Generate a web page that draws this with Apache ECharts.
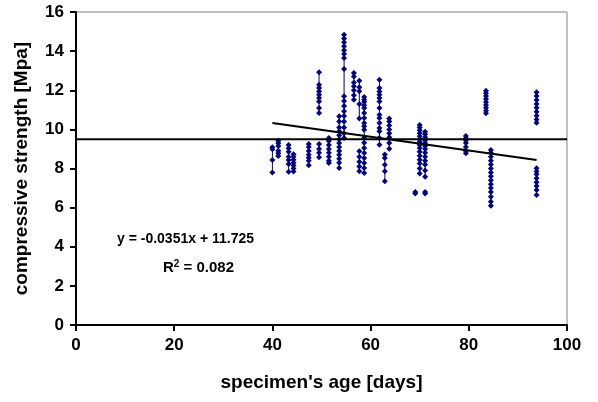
<!DOCTYPE html>
<html>
<head>
<meta charset="utf-8">
<script src="https://cdn.jsdelivr.net/npm/echarts@6/dist/echarts.min.js"></script>
<style>
html,body{margin:0;padding:0;background:#fff;}
#chart{width:598px;height:402px;}
</style>
</head>
<body>
<div id="chart"></div>
<script>
// ---- data ----
// age of each measured column [days]
const ages = [40.0, 41.2, 43.3, 44.3, 47.4, 49.5, 49.5, 51.5, 53.6, 54.6,
              56.6, 57.7, 57.7, 58.7, 61.8, 62.9, 63.8, 69.1, 70.0, 71.1,
              71.1, 79.4, 83.5, 84.5, 93.8, 93.8];
// compressive strength values of each column [MPa]
const strengths = [
  [9.08, 8.98, 8.44, 7.79],
  [9.42, 9.29, 9.15, 8.91, 8.78, 8.64],
  [9.20, 9.03, 8.86, 8.60, 8.43, 8.23, 7.84],
  [8.73, 8.60, 8.45, 8.30, 8.15, 8.00, 7.85],
  [9.25, 9.10, 8.90, 8.70, 8.55, 8.40, 8.16],
  [12.92, 12.28, 12.11, 11.94, 11.77, 11.60, 11.43, 11.09, 10.84],
  [9.25, 9.00, 8.80, 8.57],
  [9.56, 9.40, 9.20, 9.00, 8.80, 8.60, 8.40, 8.28],
  [10.67, 10.40, 10.10, 9.90, 9.70, 9.50, 9.30, 9.10, 8.90, 8.70, 8.50, 8.30, 8.03],
  [14.84, 14.65, 14.45, 14.25, 14.05, 13.85, 13.65, 13.09, 11.69, 11.45, 11.20, 10.93, 10.69, 10.40, 10.10, 9.80, 9.56],
  [12.88, 12.70, 12.40, 12.20, 12.00, 11.75, 11.52],
  [12.49, 12.15, 11.95, 11.30, 10.55],
  [8.88, 8.60, 8.35, 8.10, 7.86],
  [11.66, 11.52, 11.40, 11.23, 11.09, 10.84, 10.58, 10.33, 10.16, 9.98, 9.56, 9.31, 9.05, 8.79, 8.54, 8.28, 8.03, 7.77],
  [12.54, 12.11, 11.94, 11.77, 11.60, 11.43, 11.09, 10.75, 10.58, 10.33, 10.07, 9.90, 9.56, 9.22],
  [8.71, 8.54, 8.19, 7.86, 7.35],
  [10.55, 10.40, 10.20, 10.00, 9.80, 9.60, 9.30, 9.01],
  [6.80, 6.72],
  [10.22, 10.10, 9.95, 9.80, 9.65, 9.50, 9.35, 9.20, 9.05, 8.85, 8.65, 8.45, 8.25, 8.00, 7.75],
  [9.88, 9.75, 9.60, 9.45, 9.30, 9.15, 9.00, 8.80, 8.60, 8.40, 8.20, 7.90, 7.58],
  [6.80, 6.72],
  [9.66, 9.55, 9.45, 9.30, 9.10, 8.90, 8.78],
  [11.98, 11.85, 11.70, 11.55, 11.40, 11.25, 11.10, 10.95, 10.82],
  [8.95, 8.80, 8.60, 8.40, 8.20, 8.00, 7.80, 7.60, 7.40, 7.20, 7.00, 6.80, 6.55, 6.30, 6.10],
  [11.90, 11.70, 11.50, 11.30, 11.10, 10.90, 10.70, 10.50, 10.34],
  [8.01, 7.85, 7.70, 7.50, 7.30, 7.10, 6.90, 6.65]
];
// linear trend reported on the chart
const trendSlope = -0.0351;
const trendIntercept = 11.725;
const rSquared = '0.082';
// horizontal reference level [MPa]
const referenceLevel = 9.5;
// axis ranges / ticks
const xTicks = [0, 20, 40, 60, 80, 100];
const yTicks = [0, 2, 4, 6, 8, 10, 12, 14, 16];

// ---- chart ----
const FONT = '"Liberation Sans", Arial, sans-serif';
const NAVY = '#000080';
const chart = echarts.init(document.getElementById('chart'), null, {renderer: 'canvas'});

const series = [];
strengths.forEach((vals, i) => {
  series.push({
    type: 'line',
    data: vals.map(v => [ages[i], v]),
    symbol: 'diamond',
    symbolSize: 6,
    showAllSymbol: true,
    lineStyle: {color: NAVY, width: 1},
    itemStyle: {color: NAVY, borderColor: NAVY, borderWidth: 0},
    animation: false,
    silent: true,
    z: 2
  });
});
const xMin = Math.min(...ages), xMax = Math.max(...ages);
series.push({
  type: 'line',
  data: [[xMin, trendSlope * xMin + trendIntercept], [xMax, trendSlope * xMax + trendIntercept]],
  symbol: 'none',
  lineStyle: {color: '#000', width: 2},
  animation: false, silent: true, z: 3
});
series.push({
  type: 'line',
  data: [[xTicks[0], referenceLevel], [xTicks[xTicks.length - 1], referenceLevel]],
  symbol: 'none',
  lineStyle: {color: '#000', width: 2},
  animation: false, silent: true, z: 3
});

const labelStyle = {color: '#000', fontFamily: FONT, fontWeight: 'bold', fontSize: 17};

chart.setOption({
  backgroundColor: '#fff',
  animation: false,
  grid: {left: 76, right: 31, top: 12, bottom: 77, show: true,
         borderColor: '#808080', borderWidth: 1, backgroundColor: 'transparent'},
  xAxis: {
    type: 'value', min: xTicks[0], max: xTicks[xTicks.length - 1], interval: 20,
    name: "specimen's age [days]", nameLocation: 'middle', nameGap: 48,
    nameTextStyle: {color: '#000', fontFamily: FONT, fontWeight: 'bold', fontSize: 19},
    axisLine: {lineStyle: {color: '#000', width: 2}},
    axisTick: {show: true, length: 6, lineStyle: {color: '#000', width: 2}},
    axisLabel: Object.assign({margin: 12}, labelStyle),
    splitLine: {show: false}
  },
  yAxis: {
    type: 'value', min: yTicks[0], max: yTicks[yTicks.length - 1], interval: 2,
    name: 'compressive strength [Mpa]', nameLocation: 'middle', nameGap: 45,
    nameTextStyle: {color: '#000', fontFamily: FONT, fontWeight: 'bold', fontSize: 19},
    axisLine: {show: true, lineStyle: {color: '#000', width: 2}},
    axisTick: {show: true, length: 6, lineStyle: {color: '#000', width: 2}},
    axisLabel: Object.assign({margin: 12}, labelStyle),
    splitLine: {show: false}
  },
  graphic: [
    {type: 'text', left: 117, top: 232, silent: true,
     style: {text: 'y = ' + trendSlope + 'x + ' + trendIntercept, fill: '#000',
             font: 'bold 14px ' + FONT}},
    {type: 'text', left: 163, top: 259, silent: true,
     style: {text: '{r|R}{s|2}{r| = ' + rSquared + '}', fill: '#000',
             rich: {r: {fontFamily: FONT, fontWeight: 'bold', fontSize: 15, fill: '#000', verticalAlign: 'bottom'},
                    s: {fontFamily: FONT, fontWeight: 'bold', fontSize: 10, fill: '#000', verticalAlign: 'top', padding: [0, 0, 6, 0]}}}}
  ],
  series: series
});
</script>
</body>
</html>
